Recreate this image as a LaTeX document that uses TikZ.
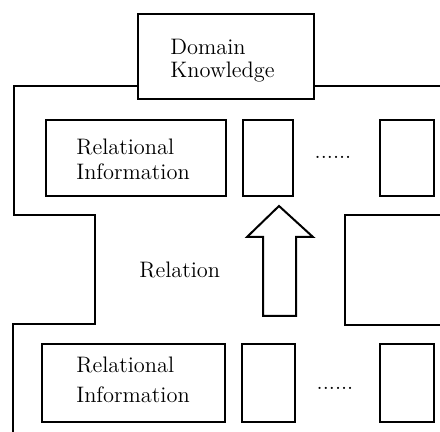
\documentclass[tikz,border=0pt]{standalone}
\usetikzlibrary{fit}
\begin{document}
\begin{tikzpicture}[x=0.5pt,y=-0.5pt,
  boxed/.style={draw, line width=1.35pt, inner sep=0pt},
  wall/.style={line width=0.8pt},
  lbl/.style={inner sep=0pt, font=\fontsize{11.2}{12.5}\selectfont, anchor=base west},
  dots/.style={inner sep=0pt, font=\fontsize{11.2}{12.5}\selectfont},
  bigarrow/.style={draw, line width=1pt, line join=miter}]
\useasboundingbox (0,0) rectangle (440,432);

% domain knowledge box
\node[boxed, fit={(138,14) (314,99)}] (dk) {};
\node[lbl] (dk1) at (170,55) {Domain};
\node[lbl] (dk2) at (170,78) {Knowledge};

% upper row of relational information
\node[boxed, fit={(46,120) (226,196)}] (ri1) {};
\node[lbl] (ri1a) at (76,155) {Relational};
\node[lbl] (ri1b) at (76,180) {Information};
\node[boxed, fit={(243,120) (293,196)}] (s1) {};
\node[dots] (d1) at (333,157) {......};
\node[boxed, fit={(380,120) (434,196)}] (e1) {};

% lower row of relational information
\node[boxed, fit={(42,344) (225,422)}] (ri2) {};
\node[lbl] (ri2a) at (76,373) {Relational};
\node[lbl] (ri2b) at (76,403) {Information};
\node[boxed, fit={(242,344) (295,422)}] (s2) {};
\node[dots] (d2) at (335,388) {......};
\node[boxed, fit={(380,344) (434,422)}] (e2) {};

% relation label and block arrow
\node[lbl] (rel) at (139,278) {Relation};
\draw[bigarrow] (279,206) -- (313,237) -- (296,237) -- (296,316)
  -- (263,316) -- (263,237) -- (247,237) -- cycle;

% enclosing boundary lines
\draw[wall] (dk.west |- 0,86) -- (14,86) -- (14,215) -- (95,215)
  -- (95,324) -- (13,324) -- (13,432);
\draw[wall] (dk.east |- 0,86) -- (440,86);
\draw[wall] (440,215) -- (345,215) -- (345,325) -- (440,325);
\end{tikzpicture}
\end{document}
